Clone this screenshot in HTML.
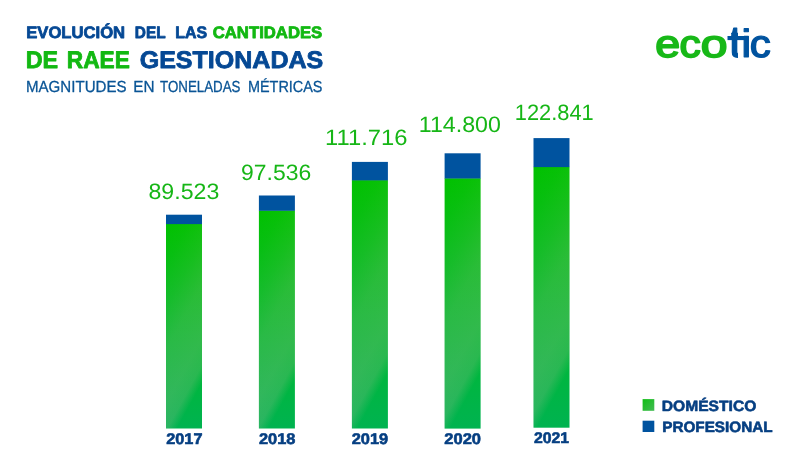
<!DOCTYPE html>
<html lang="es">
<head>
<meta charset="utf-8">
<title>Evolución de las cantidades de RAEE gestionadas</title>
<style>
html,body{margin:0;padding:0;background:#fff;}
body{width:800px;height:471px;overflow:hidden;font-family:"Liberation Sans",sans-serif;}
svg{display:block;}
text{font-family:"Liberation Sans",sans-serif;text-rendering:geometricPrecision;}
.b{font-weight:bold;}
</style>
</head>
<body>
<svg width="800" height="471" viewBox="0 0 800 471">
<defs>
<linearGradient id="gb" x1="0" y1="0" x2="0" y2="1"><stop offset="0" stop-color="#00c100"/><stop offset="1" stop-color="#00b350"/></linearGradient>
<linearGradient id="s0" gradientUnits="userSpaceOnUse" x1="166.0" y1="223.8" x2="260.6" y2="275.4"><stop offset="0" stop-color="#f5bebe" stop-opacity="0"/><stop offset="0.18" stop-color="#f5bebe" stop-opacity="0.03"/><stop offset="0.37" stop-color="#f5bebe" stop-opacity="0.09"/><stop offset="0.56" stop-color="#f5bebe" stop-opacity="0.17"/><stop offset="0.8" stop-color="#f5bebe" stop-opacity="0.2"/><stop offset="0.92" stop-color="#f5bebe" stop-opacity="0.17"/><stop offset="1" stop-color="#f5bebe" stop-opacity="0"/></linearGradient>
<linearGradient id="s1" gradientUnits="userSpaceOnUse" x1="258.9" y1="210.5" x2="357.8" y2="264.4"><stop offset="0" stop-color="#f5bebe" stop-opacity="0"/><stop offset="0.18" stop-color="#f5bebe" stop-opacity="0.03"/><stop offset="0.37" stop-color="#f5bebe" stop-opacity="0.09"/><stop offset="0.56" stop-color="#f5bebe" stop-opacity="0.17"/><stop offset="0.8" stop-color="#f5bebe" stop-opacity="0.2"/><stop offset="0.92" stop-color="#f5bebe" stop-opacity="0.17"/><stop offset="1" stop-color="#f5bebe" stop-opacity="0"/></linearGradient>
<linearGradient id="s2" gradientUnits="userSpaceOnUse" x1="351.9" y1="180.1" x2="460.6" y2="239.4"><stop offset="0" stop-color="#f5bebe" stop-opacity="0"/><stop offset="0.18" stop-color="#f5bebe" stop-opacity="0.03"/><stop offset="0.37" stop-color="#f5bebe" stop-opacity="0.09"/><stop offset="0.56" stop-color="#f5bebe" stop-opacity="0.17"/><stop offset="0.8" stop-color="#f5bebe" stop-opacity="0.2"/><stop offset="0.92" stop-color="#f5bebe" stop-opacity="0.17"/><stop offset="1" stop-color="#f5bebe" stop-opacity="0"/></linearGradient>
<linearGradient id="s3" gradientUnits="userSpaceOnUse" x1="444.6" y1="178.2" x2="553.9" y2="237.8"><stop offset="0" stop-color="#f5bebe" stop-opacity="0"/><stop offset="0.18" stop-color="#f5bebe" stop-opacity="0.03"/><stop offset="0.37" stop-color="#f5bebe" stop-opacity="0.09"/><stop offset="0.56" stop-color="#f5bebe" stop-opacity="0.17"/><stop offset="0.8" stop-color="#f5bebe" stop-opacity="0.2"/><stop offset="0.92" stop-color="#f5bebe" stop-opacity="0.17"/><stop offset="1" stop-color="#f5bebe" stop-opacity="0"/></linearGradient>
<linearGradient id="s4" gradientUnits="userSpaceOnUse" x1="533.5" y1="166.8" x2="646.2" y2="228.3"><stop offset="0" stop-color="#f5bebe" stop-opacity="0"/><stop offset="0.18" stop-color="#f5bebe" stop-opacity="0.03"/><stop offset="0.37" stop-color="#f5bebe" stop-opacity="0.09"/><stop offset="0.56" stop-color="#f5bebe" stop-opacity="0.17"/><stop offset="0.8" stop-color="#f5bebe" stop-opacity="0.2"/><stop offset="0.92" stop-color="#f5bebe" stop-opacity="0.17"/><stop offset="1" stop-color="#f5bebe" stop-opacity="0"/></linearGradient>
<linearGradient id="gl" x1="0" y1="0" x2="1" y2="1"><stop offset="0" stop-color="#10be14"/><stop offset="1" stop-color="#44bb55"/></linearGradient>
<clipPath id="ct"><rect x="731.2" y="20" width="6.8" height="45"/></clipPath>
</defs>
<rect width="800" height="471" fill="#fff"/>

<!-- title -->
<g font-size="16.6" fill="#054894" font-weight="bold" stroke="#054894" stroke-width="0.8" stroke-linejoin="round">
<text transform="translate(26.25,38) scale(1.0021,1)">EVOLUCIÓN</text>
<text transform="translate(134.85,38) scale(0.9262,1)">DEL</text>
<text transform="translate(175.25,38) scale(0.9551,1)">LAS</text>
<text transform="translate(212.75,38) scale(1.0065,1)" fill="#12b812" stroke="#12b812">CANTIDADES</text>
</g>
<g font-size="24" fill="#12b812" font-weight="bold" stroke="#12b812" stroke-width="0.8" stroke-linejoin="round">
<text transform="translate(25.75,68) scale(0.9730,1)">DE</text>
<text transform="translate(66.85,68) scale(0.9454,1)">RAEE</text>
<text transform="translate(139.70,68) scale(1.0426,1)" fill="#054894" stroke="#054894">GESTIONADAS</text>
</g>
<g font-size="16" fill="#0a5596" stroke="#0a5596" stroke-width="0.3" stroke-linejoin="round">
<text transform="translate(26.00,92) scale(0.9427,1)">MAGNITUDES</text>
<text transform="translate(133.35,92) scale(0.9552,1)">EN</text>
<text transform="translate(160.05,92) scale(0.8319,1)">TONELADAS</text>
<text transform="translate(248.00,92) scale(0.9009,1)">MÉTRICAS</text>
</g>

<!-- logo -->
<g font-size="40" stroke-width="1" stroke-linejoin="round"><g fill="#18b818" stroke="#18b818" stroke-width="1.8"><text transform="translate(655.15,57) scale(1.1195,0.9622)">e</text><text transform="translate(679.60,57) scale(1.0634,0.9622)">c</text><text transform="translate(700.65,57) scale(1.2025,0.9622)">o</text></g><g fill="#00539f" stroke="#00539f"><g clip-path="url(#ct)"><text transform="translate(728.6,57) scale(1.25,1.12)">t</text></g><text transform="translate(741.0,57) scale(1.19,0.9817)">i</text><text transform="translate(749.70,57) scale(1.0535,0.9699)" stroke-width="1.4">c</text><rect x="727.5" y="36" width="21" height="4.1" stroke="none"/></g></g>

<!-- bars -->
<rect x="166.0" y="223.8" width="36" height="204.7" fill="url(#gb)"/>
<rect x="166.0" y="223.8" width="36" height="204.7" fill="url(#s0)"/>
<rect x="166.0" y="214.7" width="36" height="9.4" fill="#00539f"/>
<rect x="258.9" y="210.5" width="36" height="218.0" fill="url(#gb)"/>
<rect x="258.9" y="210.5" width="36" height="218.0" fill="url(#s1)"/>
<rect x="258.9" y="195.5" width="36" height="15.3" fill="#00539f"/>
<rect x="351.9" y="180.1" width="36" height="248.4" fill="url(#gb)"/>
<rect x="351.9" y="180.1" width="36" height="248.4" fill="url(#s2)"/>
<rect x="351.9" y="161.9" width="36" height="18.5" fill="#00539f"/>
<rect x="444.6" y="178.2" width="36" height="250.4" fill="url(#gb)"/>
<rect x="444.6" y="178.2" width="36" height="250.4" fill="url(#s3)"/>
<rect x="444.6" y="153.3" width="36" height="25.2" fill="#00539f"/>
<rect x="533.5" y="166.8" width="36" height="260.9" fill="url(#gb)"/>
<rect x="533.5" y="166.8" width="36" height="260.9" fill="url(#s4)"/>
<rect x="533.5" y="138.1" width="36" height="29.0" fill="#00539f"/>

<!-- values -->
<g font-size="22.2" fill="#16b616">
<text transform="translate(148.50,199) scale(1.0433,1)">89.523</text>
<text transform="translate(241.05,180) scale(1.0335,1)">97.536</text>
<text transform="translate(325.10,145) scale(1.0714,1)">111.716</text>
<text transform="translate(418.80,132) scale(1.0447,1)">114.800</text>
<text transform="translate(514.75,120) scale(0.9845,1)">122.841</text>
</g>

<!-- years -->
<g font-size="15.4" fill="#063f82" font-weight="bold" stroke="#063f82" stroke-width="0.6" stroke-linejoin="round">
<text transform="translate(166.25,444) scale(1.0582,1)">2017</text>
<text transform="translate(258.95,444) scale(1.0627,1)">2018</text>
<text transform="translate(351.75,444) scale(1.0657,1)">2019</text>
<text transform="translate(444.30,444) scale(1.0731,1)">2020</text>
<text transform="translate(533.95,443) scale(1.0239,1)">2021</text>
</g>

<!-- legend -->
<rect x="642.6" y="399.1" width="11.7" height="11.7" fill="url(#gl)"/>
<rect x="642.6" y="420.7" width="11.7" height="11.3" fill="#00539f"/>
<g font-size="15" fill="#063f82" font-weight="bold" stroke="#063f82" stroke-width="0.6" stroke-linejoin="round">
<text transform="translate(661.80,411) scale(1.0402,1)">DOMÉSTICO</text>
<text transform="translate(662.25,432) scale(1.0182,1)">PROFESIONAL</text>
</g>
</svg>
</body>
</html>
